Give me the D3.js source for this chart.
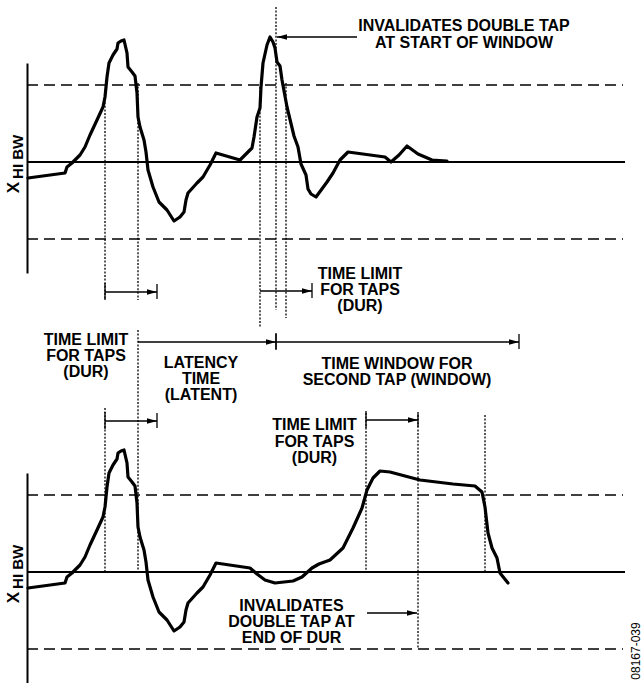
<!DOCTYPE html>
<html>
<head>
<meta charset="utf-8">
<script src="https://cdn.jsdelivr.net/npm/d3@7"></script>
<style>
    body { margin: 0; background: #fff; }
    svg { display: block; }
    text { font-family: "Liberation Sans", Arial, Helvetica, sans-serif; font-weight: bold; font-size: 16px; fill: #000; }
</style>
</head>
<body>
<svg id="chart" width="642" height="683"></svg>
<script>
    'use strict';

    // threshold and axis extent, signal units
    var threshold = 77;
    var axisSpan = [-111, 99];
    var zeroEnd = 598, dashEnd = 596;

    // waveform [time, signal] - first tap, shared by both panels
    var firstTap = [[1, -16], [38, -11], [40, -5], [45, -1], [53, 7], [58, 15], [63, 27], [70, 42], [76, 55], [78, 65],
        [80, 85], [82, 99], [86, 107], [90, 113], [91, 119], [94, 121], [97, 122], [100, 109], [101, 95], [105, 90],
        [108, 86], [110, 69], [111, 45], [113, 35], [117, 22], [119, 10], [121, -8], [126, -25], [132, -40], [140, -48],
        [147, -59], [153, -55], [157, -50], [159, -38], [161, -31], [170, -21], [176, -15], [183, -3], [189, 9]];

    // top panel: second tap comes too early
    var earlyTail = [[213, 2], [220, 9], [225, 14], [227, 25], [230, 45], [233, 54], [234, 75], [236, 99], [240, 117],
        [243, 125], [246, 120], [248, 114], [250, 100], [253, 96], [255, 82], [260, 55], [267, 26], [271, 15], [274, -2],
        [279, -13], [281, -27], [284, -32], [289, -35], [300, -20], [306, -11], [313, 2], [321, 10], [358, 5], [364, 0],
        [372, 7], [380, 16], [391, 8], [405, 2], [420, 1]];

    // bottom panel: second tap lasts too long
    var lateTail = [[223, 4], [230, -2], [238, -8], [248, -11], [266, -9], [275, -5], [285, 4], [292, 8], [303, 12],
        [316, 24], [326, 44], [335, 64], [340, 82], [346, 94], [353, 101], [363, 100], [393, 92], [426, 88], [448, 86],
        [455, 80], [458, 65], [461, 39], [465, 24], [470, 14], [473, -1], [481, -11]];

    // event times
    var tapStart = 78, tapDur = 52, latentStart = 111, windowStart = 249, windowEnd = 492;
    var earlyStart = 233, earlyFall = 259;
    var lateStart = 339, lateFall = 458;

    // annotation texts
    var noteEarly = ['INVALIDATES DOUBLE TAP', 'AT START OF WINDOW'];
    var noteDur = ['TIME LIMIT', 'FOR TAPS', '(DUR)'];
    var noteLatent = ['LATENCY', 'TIME', '(LATENT)'];
    var noteWindow = ['TIME WINDOW FOR', 'SECOND TAP (WINDOW)'];
    var noteLate = ['INVALIDATES', 'DOUBLE TAP AT', 'END OF DUR'];
    var figCode = '08167-039';

    var panelGap = 410;

    var svg = d3.select('#chart');
    var x = d3.scaleLinear().domain([0, 600]).range([27, 627]);
    var y = d3.scaleLinear().domain([-threshold, threshold]).range([239, 85]);
    var wave = d3.line()
        .x(function (d) { return x(d[0]); })
        .y(function (d) { return y(d[1]); });

    svg.append('defs').append('marker')
        .attr('id', 'head')
        .attr('markerUnits', 'userSpaceOnUse')
        .attr('markerWidth', 10).attr('markerHeight', 6)
        .attr('refX', 10).attr('refY', 3)
        .attr('orient', 'auto')
        .append('path').attr('d', 'M0,0.3L10,3L0,5.7Z').attr('fill', '#000');

    function drawPanel(offset, data) {
        var g = svg.append('g').attr('transform', 'translate(0,' + offset + ')');
        var axisScale = y.copy().domain(axisSpan).range([y(axisSpan[0]), y(axisSpan[1])]);

        g.append('g')
            .attr('transform', 'translate(' + x(0) + ',0)')
            .call(d3.axisLeft(axisScale).tickValues([]).tickSizeOuter(0))
            .select('.domain').attr('stroke', '#000').attr('stroke-width', 2);

        g.selectAll('.thr')
            .data([threshold, -threshold])
            .enter().append('line')
            .attr('class', 'thr')
            .attr('x1', x(0)).attr('x2', x(dashEnd))
            .attr('y1', function (d) { return y(d); })
            .attr('y2', function (d) { return y(d); })
            .attr('stroke', '#000').attr('stroke-width', 1.4)
            .attr('stroke-dasharray', '11,6');

        g.append('line')
            .attr('x1', x(0)).attr('x2', x(zeroEnd))
            .attr('y1', y(0)).attr('y2', y(0))
            .attr('stroke', '#000').attr('stroke-width', 2);

        g.append('path')
            .datum(data)
            .attr('d', wave)
            .attr('fill', 'none')
            .attr('stroke', '#000').attr('stroke-width', 3.2)
            .attr('stroke-linejoin', 'round').attr('stroke-linecap', 'round');

        // rotated axis label, X with HI BW subscript
        var label = g.append('text')
            .attr('transform', 'translate(18.5,164) rotate(-90)')
            .attr('text-anchor', 'middle');
        label.append('tspan').style('font-size', '17px').text('X');
        label.append('tspan').attr('dx', 3).attr('dy', 4.5).style('font-size', '15px').text('HI BW');
    }

    drawPanel(0, firstTap.concat(earlyTail));
    drawPanel(panelGap, firstTap.concat(lateTail));

    var zeroB = panelGap + y(0), lowB = panelGap + y(-threshold);

    // dotted markers [time, top, bottom]
    var dotted = [
        [tapStart, 95, 300], [latentStart, 83, 300], [earlyStart, 87, 328], [windowStart, 7, 310], [earlyFall, 83, 318],
        [tapStart, 408, zeroB], [latentStart, 330, zeroB], [lateStart, 413, zeroB], [lateStart + tapDur, 415, lowB],
        [lateFall, 415, zeroB]
    ];
    svg.selectAll('.dot')
        .data(dotted)
        .enter().append('line')
        .attr('class', 'dot')
        .attr('x1', function (d) { return x(d[0]); })
        .attr('x2', function (d) { return x(d[0]); })
        .attr('y1', function (d) { return d[1]; })
        .attr('y2', function (d) { return d[2]; })
        .attr('stroke', '#000').attr('stroke-width', 1.3)
        .attr('stroke-dasharray', '2,1.6');

    function arrow(px1, px2, yy) {
        svg.append('line')
            .attr('x1', px1).attr('x2', px2)
            .attr('y1', yy).attr('y2', yy)
            .attr('stroke', '#000').attr('stroke-width', 1.3)
            .attr('marker-end', 'url(#head)');
    }

    function tick(px, y1, y2) {
        svg.append('line')
            .attr('x1', px).attr('x2', px)
            .attr('y1', y1).attr('y2', y2)
            .attr('stroke', '#000').attr('stroke-width', 1.3);
    }

    // spans [from, to, y, startTick]
    var spans = [
        [tapStart, tapStart + tapDur, 292, true],
        [earlyStart, earlyStart + tapDur, 291, false],
        [latentStart, windowStart, 342, false],
        [windowStart, windowEnd, 342, true],
        [tapStart, tapStart + tapDur, 421, true],
        [lateStart, lateStart + tapDur, 420, true]
    ];
    spans.forEach(function (s) {
        arrow(x(s[0]), x(s[1]), s[2]);
        tick(x(s[1]), s[2] - 8, s[2] + 7);
        if (s[3]) {
            tick(x(s[0]), s[2] - 9, s[2] + 8);
        }
    });

    // pointers
    arrow(357, x(windowStart) + 1, 37);
    arrow(367, x(lateStart + tapDur) - 1, 613);

    function note(lines, cx, base, lh) {
        var t = svg.append('text').attr('text-anchor', 'middle');
        lines.forEach(function (s, i) {
            t.append('tspan').attr('x', cx).attr('y', base + i * lh).text(s);
        });
    }

    note(noteEarly, 464, 31, 17);
    note(noteDur, 360, 279, 16);
    note(noteDur, 86, 345, 16);
    note(noteLatent, 201, 368, 16);
    note(noteWindow, 397, 369, 15.5);
    note(noteDur, 314.5, 430, 16.5);
    note(noteLate, 291.5, 611, 16);

    svg.append('text')
        .attr('transform', 'translate(640,651) rotate(-90)')
        .attr('text-anchor', 'middle')
        .style('font-weight', 'normal')
        .style('font-size', '12px')
        .text(figCode);
</script>
</body>
</html>
